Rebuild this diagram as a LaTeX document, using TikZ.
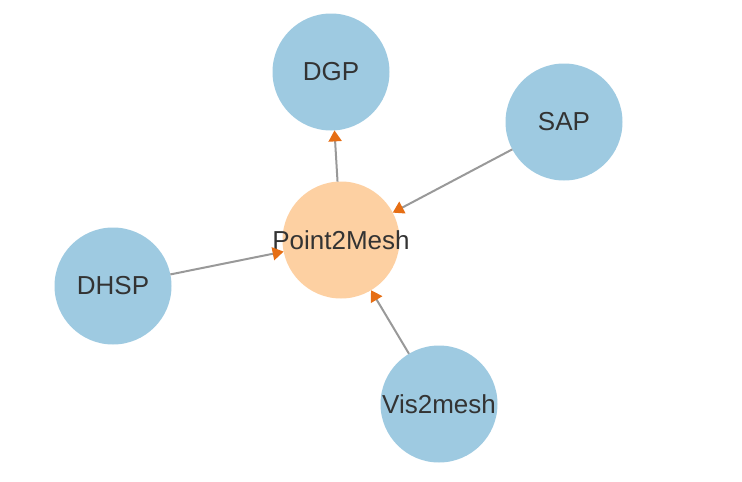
\documentclass[tikz,border=0pt]{standalone}
\usepackage{fontspec}
\setmainfont{Liberation Sans}
\usetikzlibrary{arrows.meta}
\definecolor{nblue}{HTML}{9ECAE1}
\definecolor{norange}{HTML}{FDD0A2}
\definecolor{ntext}{HTML}{333333}
\definecolor{edgegray}{HTML}{999999}
\definecolor{tiporange}{RGB}{230,110,20}
\begin{document}
\begin{tikzpicture}[x=1pt,y=-1pt,
  nodebase/.style={circle,minimum size=117pt,inner sep=0pt,outer sep=0pt,text=ntext,font=\fontsize{26}{28}\selectfont},
  bluenode/.style={nodebase,fill=nblue},
  orangenode/.style={nodebase,fill=norange,label={[text=ntext,font=\fontsize{26}{28}\selectfont]center:#1}},
  link/.style={draw=edgegray,line width=2pt,-{Triangle[length=11pt,width=13pt,color=tiporange]}}]
\useasboundingbox (0,0) rectangle (742,482);
\node[orangenode=Point2Mesh] (p) at (341,240) {};
\node[bluenode] (dgp) at (331,72) {DGP};
\node[bluenode] (sap) at (564,122) {SAP};
\node[bluenode] (dhsp) at (113,286) {DHSP};
\node[bluenode] (vis) at (439,404) {Vis2mesh};
\draw[link] (p) -- (dgp);
\draw[link] (sap) -- (p);
\draw[link] (dhsp) -- (p);
\draw[link] (vis) -- (p);
\end{tikzpicture}
\end{document}
